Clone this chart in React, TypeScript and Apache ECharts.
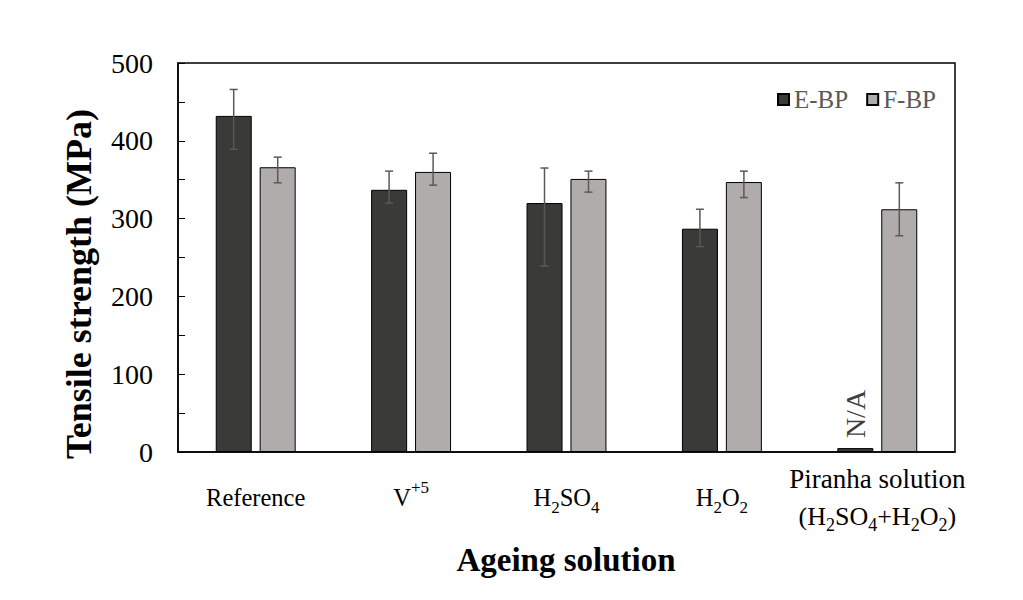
import React, { useEffect, useRef } from "react";
import * as echarts from "echarts";

const categories = [
  "Reference",
  "V{sup|+5}",
  "H{sub|2}SO{sub|4}",
  "H{sub|2}O{sub|2}",
  "{p|Piranha solution}\n{q|(H}{sub2|2}{q|SO}{sub2|4}{q|+H}{sub2|2}{q|O}{sub2|2}{q|)}",
];
const ebpValues = [432, 337, 320, 287, 5];
const fbpValues = [366, 360, 351, 347, 312];
const ebpErrHigh = [466, 361, 365, 312, null];
const ebpErrLow = [389, 320, 239, 264, null];
const fbpErrHigh = [379, 384, 361, 361, 346];
const fbpErrLow = [346, 343, 334, 327, 278];
const yTicks = [0, 100, 200, 300, 400, 500];

const FONT = "'Times New Roman', 'Liberation Serif', serif";
const BAR_W = 36;
const OFFSET = 22;

function errData(hi: (number | null)[], lo: (number | null)[]) {
  const out: any[] = [];
  hi.forEach((h, i) => {
    if (h != null && lo[i] != null) out.push([i, lo[i], h]);
  });
  return out;
}

function makeErr(offset: number) {
  return (params: any, api: any) => {
    const i = api.value(0);
    const lo = api.coord([i, api.value(1)]);
    const hi = api.coord([i, api.value(2)]);
    const x = lo[0] + offset;
    const cap = 4;
    const style = { stroke: "#595959", lineWidth: 1.5 };
    return {
      type: "group",
      children: [
        { type: "line", shape: { x1: x, y1: lo[1], x2: x, y2: hi[1] }, style },
        { type: "line", shape: { x1: x - cap, y1: hi[1], x2: x + cap, y2: hi[1] }, style },
        { type: "line", shape: { x1: x - cap, y1: lo[1], x2: x + cap, y2: lo[1] }, style },
      ],
    };
  };
}

export default function App() {
  const ref = useRef<HTMLDivElement>(null);
  useEffect(() => {
    if (!ref.current) return;
    const chart = echarts.init(ref.current, undefined, { renderer: "svg" });
    chart.setOption({
      animation: false,
      textStyle: { fontFamily: FONT },
      grid: { left: 178, right: 68, top: 63, bottom: 148, show: true, borderColor: "#000", borderWidth: 1.5, backgroundColor: "transparent" },
      legend: {
        right: 82,
        top: 82,
        itemWidth: 11,
        itemHeight: 11,
        itemGap: 18,
        icon: "rect",
        textStyle: { fontFamily: FONT, fontSize: 25, color: "#595959" },
        data: ["E-BP", "F-BP"],
      },
      xAxis: {
        type: "category",
        data: categories,
        axisLine: { lineStyle: { color: "#000", width: 1.5 } },
        axisTick: { show: false },
        axisLabel: {
          interval: 0,
          margin: 45,
          verticalAlign: "middle",
          fontFamily: FONT,
          fontSize: 24.5,
          color: "#000",
          lineHeight: 37,
          rich: {
            sub: { fontFamily: FONT, fontSize: 17, verticalAlign: "bottom", lineHeight: 29, color: "#000" },
            sup: { fontFamily: FONT, fontSize: 17, verticalAlign: "top", lineHeight: 29, color: "#000" },
            p: { fontFamily: FONT, fontSize: 27, lineHeight: 38, color: "#000" },
            q: { fontFamily: FONT, fontSize: 26, lineHeight: 36, color: "#000" },
            sub2: { fontFamily: FONT, fontSize: 18, verticalAlign: "bottom", lineHeight: 30, color: "#000" },
          },
        },
      },
      yAxis: {
        type: "value",
        min: 0,
        max: 500,
        interval: 100,
        axisLine: { show: true, lineStyle: { color: "#000", width: 1.5 } },
        axisTick: { show: true, inside: true, length: 7, lineStyle: { color: "#000" } },
        minorTick: { show: true, splitNumber: 2, length: 7, lineStyle: { color: "#000" } },
        splitLine: { show: false },
        axisLabel: {
          fontFamily: FONT,
          fontSize: 28,
          color: "#000",
          margin: 25,
          formatter: (v: number) => (yTicks.includes(v) ? String(v) : ""),
        },
      },
      graphic: [
        {
          type: "text",
          x: 79,
          y: 284,
          rotation: Math.PI / 2,
          style: { text: "Tensile strength (MPa)", fontFamily: FONT, fontWeight: "bold", fontSize: 36, fill: "#000", align: "center", verticalAlign: "middle" },
        },
        {
          type: "text",
          x: 566,
          y: 560,
          style: { text: "Ageing solution", fontFamily: FONT, fontWeight: "bold", fontSize: 33, fill: "#000", align: "center", verticalAlign: "middle" },
        },
      ],
      series: [
        {
          name: "E-BP",
          type: "bar",
          barWidth: BAR_W,
          barGap: "22%",
          itemStyle: { color: "#3a3a38", borderColor: "#000", borderWidth: 1 },
          data: ebpValues.map((v, i) =>
            i === 4
              ? {
                  value: v,
                  label: {
                    show: true,
                    formatter: "N/A",
                    position: "top",
                    distance: 10,
                    rotate: 90,
                    align: "left",
                    verticalAlign: "middle",
                    fontFamily: FONT,
                    fontSize: 28,
                    color: "#404040",
                  },
                }
              : v
          ),
        },
        {
          name: "F-BP",
          type: "bar",
          barWidth: BAR_W,
          barGap: "22%",
          itemStyle: { color: "#b0acab", borderColor: "#000", borderWidth: 1 },
          data: fbpValues,
        },
        {
          type: "custom",
          z: 10,
          renderItem: makeErr(-OFFSET),
          data: errData(ebpErrHigh, ebpErrLow),
          encode: { x: 0, y: [1, 2] },
          silent: true,
        },
        {
          type: "custom",
          z: 10,
          renderItem: makeErr(OFFSET),
          data: errData(fbpErrHigh, fbpErrLow),
          encode: { x: 0, y: [1, 2] },
          silent: true,
        },
      ],
    });
    return () => chart.dispose();
  }, []);
  return <div ref={ref} style={{ width: 1023, height: 600, position: "absolute", left: 0, top: 0 }} />;
}
